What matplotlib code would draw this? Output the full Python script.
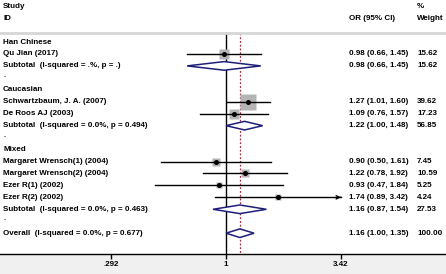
import numpy as np
import matplotlib
matplotlib.use("Agg")
import matplotlib.pyplot as plt
from matplotlib import transforms

plt.rcParams['font.family'] = ['Liberation Sans', 'DejaVu Sans']

# ---- data ----
groups = ["Han Chinese", "Caucasian", "Mixed"]
study_names = ["Qu Jian (2017)", "Schwartzbaum, J. A. (2007)", "De Roos AJ (2003)",
               "Margaret Wrensch(1) (2004)", "Margaret Wrensch(2) (2004)",
               "Ezer R(1) (2002)", "Ezer R(2) (2002)"]
study_group = [0, 1, 1, 2, 2, 2, 2]
study_or = [0.98, 1.27, 1.09, 0.90, 1.22, 0.93, 1.74]
study_lo = [0.66, 1.01, 0.76, 0.50, 0.78, 0.47, 0.89]
study_hi = [1.45, 1.60, 1.57, 1.61, 1.92, 1.84, 3.42]
study_w = [15.62, 39.62, 17.23, 7.45, 10.59, 5.25, 4.24]

sub_labels = ["Subtotal  (I-squared = .%, p = .)",
              "Subtotal  (I-squared = 0.0%, p = 0.494)",
              "Subtotal  (I-squared = 0.0%, p = 0.463)"]
sub_or = [0.98, 1.22, 1.16]
sub_lo = [0.66, 1.00, 0.87]
sub_hi = [1.45, 1.48, 1.54]
sub_w = [15.62, 56.85, 27.53]

overall_label = "Overall  (I-squared = 0.0%, p = 0.677)"
overall_or, overall_lo, overall_hi, overall_w = 1.16, 1.00, 1.35, 100.00

tick_vals = [0.292, 1, 3.42]
tick_labels = [".292", "1", "3.42"]

# ---- figure ----
W, H = 446, 274
fig = plt.figure(figsize=(W / 100, H / 100), dpi=100)
fig.patch.set_facecolor("#f0f0f0")
axis_px = 254
ax = fig.add_axes([0, (H - axis_px) / H, 1, axis_px / H])
ax.set_facecolor("white")

# x mapping: 1 at pixel 226, 3.42 at pixel 341
scale = 115 / np.log(3.42)
x0 = 226
ax.set_xscale("log")
ax.set_xlim(np.exp(-x0 / scale), np.exp((W - x0) / scale))
row_h = 11.95
y0 = 42
ax.set_ylim((axis_px - y0) / row_h, -y0 / row_h)

for s in ["top", "left", "right"]:
    ax.spines[s].set_visible(False)
ax.spines["bottom"].set_linewidth(1.0)
ax.set_yticks([])
ax.set_xticks(tick_vals)
ax.set_xticklabels(tick_labels, fontsize=5.8, fontweight="bold")
ax.xaxis.set_minor_locator(matplotlib.ticker.NullLocator())
ax.tick_params(axis="x", length=3.5, width=1.0, pad=1.5, direction="out")

fs = 5.8
tl = transforms.blended_transform_factory(ax.transAxes, ax.transData)
xl = 3 / W
xor = 349 / W
xw = 417 / W

def txt(x, y, s):
    ax.text(x, y, s, transform=tl, fontsize=fs, fontweight="bold",
            ha="left", va="center", color="black")

# headers
txt(xl, -2.95, "Study")
txt(xl, -1.95, "ID")
txt(xor, -1.95, "OR (95% CI)")
txt(xw, -2.95, "%")
txt(xw, -1.95, "Weight")
ax.axhline(-0.75, color="#d6d6d6", lw=2.0)

xmax_tick = tick_vals[-1]
box_ref = 16.5  # px side for largest weight

def diamond(y, est, lo, hi):
    xs = [lo, est, hi, est, lo]
    ys = [y, y - 0.36, y, y + 0.36, y]
    ax.fill(xs, ys, facecolor="white", edgecolor="#1f1f7a", lw=1.1, zorder=4)

row = 0
for g, gname in enumerate(groups):
    txt(xl, row, gname)
    row += 1
    for i in range(len(study_names)):
        if study_group[i] != g:
            continue
        txt(xl, row, study_names[i])
        txt(xor, row, f"{study_or[i]:.2f} ({study_lo[i]:.2f}, {study_hi[i]:.2f})")
        txt(xw, row, f"{study_w[i]:.2f}")
        side = box_ref * np.sqrt(study_w[i] / max(study_w)) * 0.72
        ax.plot([study_or[i]], [row], marker="s", ms=side, color="#b4b4b4",
                mec="none", zorder=2)
        ax.plot([study_lo[i], study_hi[i]], [row, row], color="black", lw=1.0, zorder=3)
        if study_hi[i] >= xmax_tick:
            ax.annotate("", xy=(study_hi[i], row), xytext=(study_hi[i] * 0.97, row),
                        arrowprops=dict(arrowstyle="->", color="black", lw=1.0,
                                        mutation_scale=6), zorder=3)
        ax.plot([study_or[i]], [row], marker="o", ms=2.6, color="black", zorder=5)
        row += 1
    txt(xl, row, sub_labels[g])
    txt(xor, row, f"{sub_or[g]:.2f} ({sub_lo[g]:.2f}, {sub_hi[g]:.2f})")
    txt(xw, row, f"{sub_w[g]:.2f}")
    diamond(row, sub_or[g], sub_lo[g], sub_hi[g])
    row += 1
    txt(xl, row - 0.2, ".")
    row += 1

txt(xl, row, overall_label)
txt(xor, row, f"{overall_or:.2f} ({overall_lo:.2f}, {overall_hi:.2f})")
txt(xw, row, f"{overall_w:.2f}")
diamond(row, overall_or, overall_lo, overall_hi)

ytop = -0.75
ybot = (axis_px - y0) / row_h
ax.plot([1, 1], [ytop, ybot], color="black", lw=1.0, zorder=1)
ax.plot([overall_or, overall_or], [ytop, ybot], color="#a03040", lw=0.9,
        ls=(0, (1.5, 1.5)), zorder=1)

fig.savefig("out.png", dpi=100, facecolor=fig.get_facecolor())
